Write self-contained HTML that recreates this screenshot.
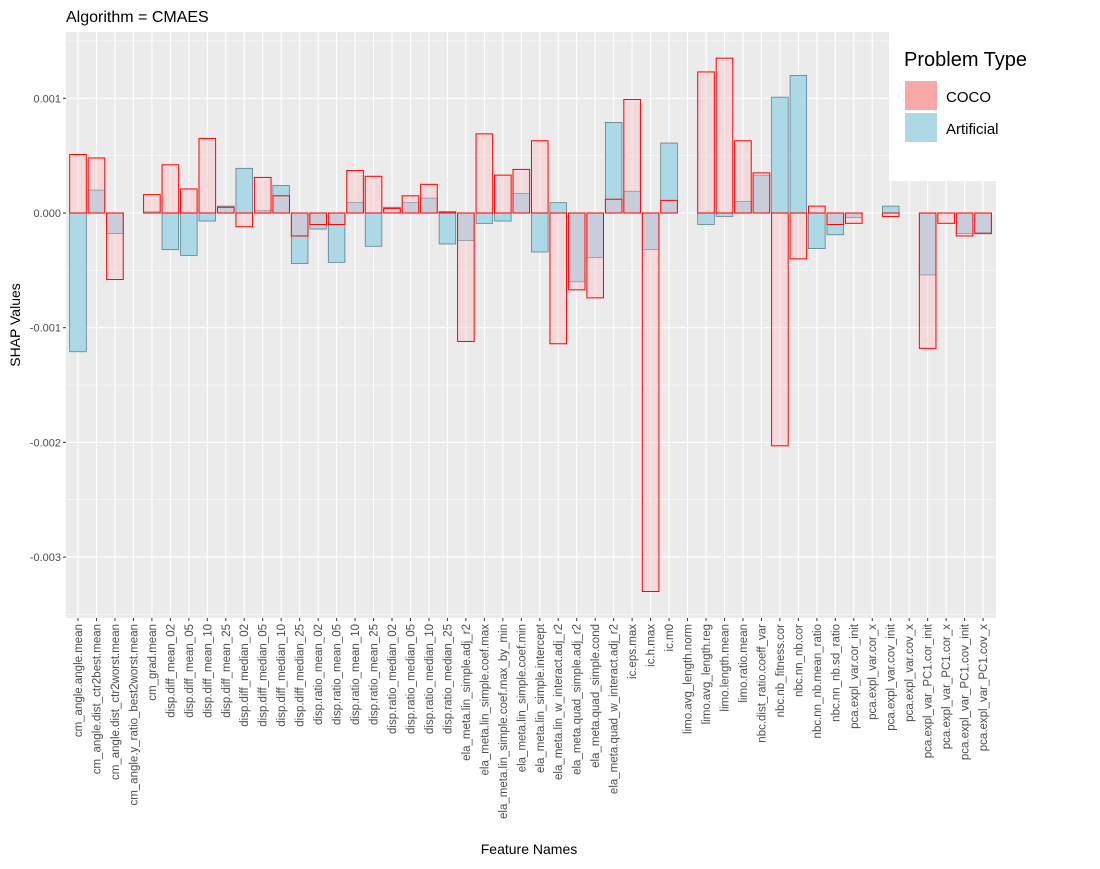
<!DOCTYPE html>
<html><head><meta charset="utf-8"><style>
body{margin:0;background:#fff;font-family:"Liberation Sans",Arial,sans-serif}
svg text{font-family:"Liberation Sans",Arial,sans-serif}
</style></head><body>
<svg id="chart" width="1100" height="864" xmlns="http://www.w3.org/2000/svg">
<rect x="0" y="0" width="1100" height="864" fill="#fff"/>
<text x="66" y="22" font-size="16" fill="#000">Algorithm = CMAES</text>
<rect x="66" y="32" width="930" height="586" fill="#ebebeb"/>
<g id="grid"></g><g id="bars"></g><g id="yaxis"></g><g id="xaxis"></g>
<text transform="translate(20,325) rotate(-90)" text-anchor="middle" font-size="14">SHAP Values</text>
<text x="529" y="854" text-anchor="middle" font-size="14">Feature Names</text>
<g>
<rect x="889" y="32" width="211" height="149" fill="#fff"/>
<text x="904" y="66" font-size="20" fill="#000">Problem Type</text>
<rect x="905" y="81" width="32" height="29" fill="#f8a8a8"/>
<text x="946" y="102" font-size="15">COCO</text>
<rect x="905" y="113" width="32" height="29" fill="#add8e6"/>
<text x="946" y="134" font-size="15">Artificial</text>
</g>
</svg>
<script>
const categories=["cm_angle.angle.mean","cm_angle.dist_ctr2best.mean","cm_angle.dist_ctr2worst.mean","cm_angle.y_ratio_best2worst.mean","cm_grad.mean","disp.diff_mean_02","disp.diff_mean_05","disp.diff_mean_10","disp.diff_mean_25","disp.diff_median_02","disp.diff_median_05","disp.diff_median_10","disp.diff_median_25","disp.ratio_mean_02","disp.ratio_mean_05","disp.ratio_mean_10","disp.ratio_mean_25","disp.ratio_median_02","disp.ratio_median_05","disp.ratio_median_10","disp.ratio_median_25","ela_meta.lin_simple.adj_r2","ela_meta.lin_simple.coef.max","ela_meta.lin_simple.coef.max_by_min","ela_meta.lin_simple.coef.min","ela_meta.lin_simple.intercept","ela_meta.lin_w_interact.adj_r2","ela_meta.quad_simple.adj_r2","ela_meta.quad_simple.cond","ela_meta.quad_w_interact.adj_r2","ic.eps.max","ic.h.max","ic.m0","limo.avg_length.norm","limo.avg_length.reg","limo.length.mean","limo.ratio.mean","nbc.dist_ratio.coeff_var","nbc.nb_fitness.cor","nbc.nn_nb.cor","nbc.nn_nb.mean_ratio","nbc.nn_nb.sd_ratio","pca.expl_var.cor_init","pca.expl_var.cor_x","pca.expl_var.cov_init","pca.expl_var.cov_x","pca.expl_var_PC1.cor_init","pca.expl_var_PC1.cor_x","pca.expl_var_PC1.cov_init","pca.expl_var_PC1.cov_x"];
const cocoValues=[0.00051,0.00048,-0.00058,0,0.00016,0.00042,0.00021,0.00065,0.00005,-0.00012,0.00031,0.00015,-0.0002,-0.0001,-0.0001,0.00037,0.00032,0.00004,0.00015,0.00025,0.00001,-0.00112,0.00069,0.00033,0.00038,0.00063,-0.00114,-0.00067,-0.00074,0.00012,0.00099,-0.0033,0.00011,0,0.00123,0.00135,0.00063,0.00035,-0.00203,-0.0004,0.00006,-0.0001,-0.00009,0,-0.00003,0,-0.00118,-0.00009,-0.0002,-0.00018];
const artificialValues=[-0.00121,0.0002,-0.00018,0,0.00001,-0.00032,-0.00037,-0.00007,0.00006,0.00039,0.00002,0.00024,-0.00044,-0.00014,-0.00043,0.00009,-0.00029,0.00005,0.00009,0.00013,-0.00027,-0.00024,-0.00009,-0.00007,0.00017,-0.00034,0.00009,-0.0006,-0.00039,0.00079,0.00019,-0.00032,0.00061,0,-0.0001,-0.00003,0.0001,0.00033,0.00101,0.0012,-0.00031,-0.00019,-0.00004,0,0.00006,0,-0.00054,0,-0.00018,-0.00017];
const yTicks=[0.001,0,-0.001,-0.002,-0.003];
const yTickLabels=["0.001","0.000","-0.001","-0.002","-0.003"];
</script>
<script>
(function(){
const NS="http://www.w3.org/2000/svg";
const L=66,R=996,T=32,B=618;
const n=categories.length;
const step=(R-L)/(n+0.35);
const x0=L+step*0.65;
const xc=i=>x0+i*step;
const y=v=>213-v*114700;
const mk=(t,a,p)=>{const e=document.createElementNS(NS,t);for(const k in a)e.setAttribute(k,a[k]);p.appendChild(e);return e;};
const grid=document.getElementById('grid'),bars=document.getElementById('bars'),ya=document.getElementById('yaxis'),xa=document.getElementById('xaxis');
for(let v=-0.0035;v<=0.0015;v+=0.0005){const yy=y(v);if(yy<T||yy>B)continue;
 const major=Math.abs(Math.round(v*1000)-v*1000)<1e-6;
 const l=mk('line',{x1:L,x2:R,y1:yy,y2:yy,stroke:'#fff','stroke-width':major?1.1:0.5},grid);
 
 }
categories.forEach((c,i)=>{const l=mk('line',{x1:xc(i),x2:xc(i),y1:T,y2:B,stroke:'#fff','stroke-width':1.1},grid);
 
 });
const w=step*0.9;
categories.forEach((c,i)=>{
 const a=artificialValues[i];
 const ra=mk('rect',{x:xc(i)-w/2,y:Math.min(y(a),y(0)),width:w,height:Math.abs(y(a)-y(0)),fill:'#add8e6',stroke:'#4f7380','stroke-width':0.7},bars);
 
 
});
categories.forEach((c,i)=>{
 const v=cocoValues[i];
 const rc=mk('rect',{x:xc(i)-w/2,y:Math.min(y(v),y(0)),width:w,height:Math.abs(y(v)-y(0)),fill:'rgba(255,182,193,0.35)',stroke:'#ff0000','stroke-width':1},bars);
 
 
});
yTicks.forEach((v,i)=>{const yy=y(v);
 mk('line',{x1:L-3,x2:L,y1:yy,y2:yy,stroke:'#333'},ya);
 const t=mk('text',{x:L-5,y:yy+4,'text-anchor':'end','font-size':11,fill:'#4d4d4d'},ya);
 t.textContent=yTickLabels[i];
 
 });
categories.forEach((c,i)=>{
 mk('line',{x1:xc(i),x2:xc(i),y1:B,y2:B+3,stroke:'#333'},xa);
 const t=mk('text',{transform:`translate(${xc(i)+4},${B+6}) rotate(-90)`,'text-anchor':'end','font-size':11.5,fill:'#4d4d4d'},xa);
 t.textContent=c;
 
 });
})();
</script>
</body></html>
